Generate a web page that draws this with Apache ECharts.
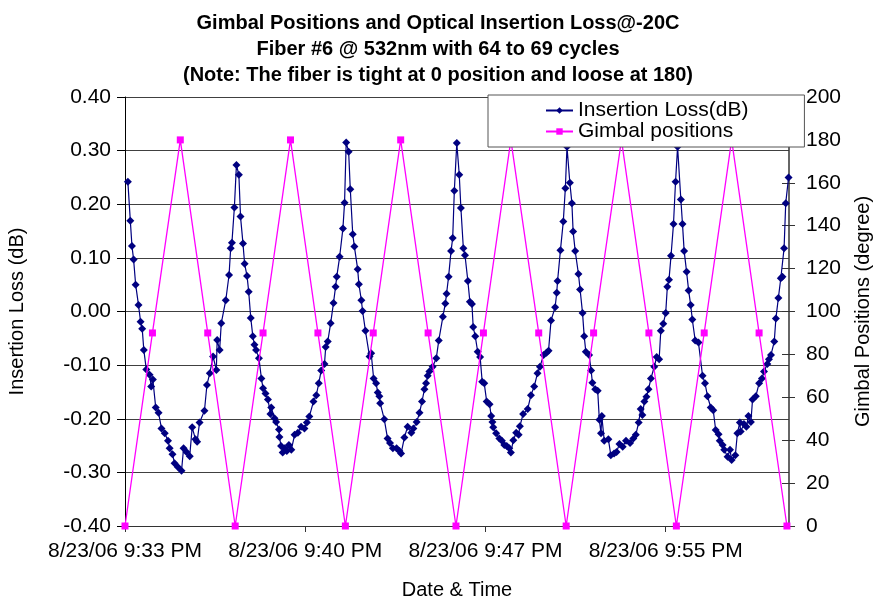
<!DOCTYPE html>
<html>
<head>
<meta charset="utf-8">
<title>Gimbal Positions and Optical Insertion Loss</title>
<script src="https://cdn.jsdelivr.net/npm/echarts@6/dist/echarts.min.js"></script>
<style>
  html, body { margin: 0; padding: 0; background: #fff; }
  #chart { width: 876px; height: 599px; }
</style>
</head>
<body>
<div id="chart"></div>
<script>
// x values are seconds after the first sample (~9:33 PM)
const xTickLabels = ['8/23/06 9:33 PM', '8/23/06 9:40 PM', '8/23/06 9:47 PM', '8/23/06 9:55 PM']

const gimbalTimes = [0, 67, 135, 202, 269, 337, 404, 471, 538, 606, 673, 740, 808,
  875, 942, 1010, 1077, 1144, 1212, 1279, 1346, 1414, 1481, 1548, 1616]
const gimbalPositions = [0, 90, 180, 90, 0, 90, 180, 90, 0, 90, 180, 90, 0,
  90, 180, 90, 0, 90, 180, 90, 0, 90, 180, 90, 0]

const lossTimes = [
  7, 13, 17, 21, 26, 33, 38, 42, 46, 52, 60, 64, 68, 75, 82, 89, 97, 105, 109, 116,
  121, 129, 138, 143, 150, 158, 164, 172, 176, 182, 194, 200, 207, 215, 223, 225, 231, 235, 246, 254,
  258, 261, 267, 272, 278,
  282, 288, 292, 298, 302, 307, 312, 316, 320, 327, 333, 337, 343, 349, 355, 357, 365, 369, 376, 377,
  381, 385, 390, 395, 400, 406, 414, 422, 430, 438, 444, 450, 460, 467, 473, 479, 487, 490, 495, 502,
  509, 514, 517, 524, 532, 536, 540, 546,
  550, 556, 560, 568, 571, 577, 580, 587, 597, 601, 607, 613, 617, 621, 623, 633, 641, 647, 654, 663,
  670, 674, 682, 690, 699, 704, 712, 719, 725, 731, 735, 739, 743, 751, 760, 766, 776, 782, 785, 790,
  796, 800, 804, 810,
  816, 820, 826, 830, 837, 842, 847, 850, 855, 861, 867, 872, 877, 883, 890, 894, 897, 899, 906, 914,
  920, 926, 932, 938, 942, 948, 955, 961, 964, 972, 983, 991, 999, 1007, 1013, 1022, 1029, 1034, 1040, 1050,
  1054, 1056, 1063, 1070, 1075, 1079,
  1086, 1091, 1094, 1099, 1107, 1111, 1117, 1121, 1125, 1133, 1138, 1141, 1148, 1154, 1158, 1162, 1164, 1170, 1180, 1186,
  1194, 1200, 1207, 1215, 1223, 1233, 1241, 1247, 1254, 1259, 1263, 1268, 1273, 1278, 1284, 1292, 1298, 1304, 1308, 1314,
  1320, 1324, 1328, 1333, 1339, 1344, 1349,
  1357, 1361, 1365, 1371, 1376, 1381, 1385, 1392, 1400, 1410, 1416, 1422, 1430, 1436, 1442, 1449, 1452, 1459, 1463, 1471,
  1477, 1481, 1490, 1495, 1501, 1503, 1511, 1517, 1522, 1528, 1532, 1540, 1548, 1555, 1560, 1568, 1572, 1577, 1585, 1589,
  1595, 1601, 1605, 1609, 1613, 1620
]
const lossValues = [
  0.242, 0.169, 0.122, 0.097, 0.050, 0.012, -0.019, -0.032, -0.072, -0.108, -0.118, -0.140, -0.127, -0.179, -0.189, -0.218, -0.227, -0.241, -0.255, -0.266,
  -0.283, -0.290, -0.297, -0.255, -0.262, -0.270, -0.216, -0.238, -0.243, -0.207, -0.185, -0.137, -0.115, -0.084, -0.109, -0.053, -0.072, -0.022, 0.021, 0.068,
  0.118, 0.128, 0.194, 0.273, 0.255,
  0.177, 0.127, 0.089, 0.066, 0.037, -0.012, -0.046, -0.062, -0.072, -0.087, -0.125, -0.143, -0.153, -0.164, -0.191, -0.179, -0.199, -0.206, -0.220, -0.234,
  -0.251, -0.263, -0.255, -0.260, -0.249, -0.258, -0.230, -0.226, -0.215, -0.218, -0.207, -0.196, -0.168, -0.156, -0.134, -0.110, -0.098, -0.066, -0.056, -0.022,
  0.016, 0.046, 0.065, 0.102, 0.155, 0.203, 0.315, 0.298,
  0.228, 0.144, 0.121, 0.079, 0.051, 0.021, 0.001, -0.036, -0.084, -0.078, -0.125, -0.134, -0.151, -0.158, -0.171, -0.201, -0.237, -0.245, -0.255, -0.255,
  -0.260, -0.265, -0.235, -0.215, -0.226, -0.218, -0.206, -0.189, -0.168, -0.145, -0.134, -0.120, -0.112, -0.103, -0.087, -0.054, -0.010, 0.015, 0.033, 0.065,
  0.113, 0.137, 0.225, 0.314,
  0.255, 0.193, 0.118, 0.105, 0.057, 0.018, 0.014, -0.029, -0.046, -0.075, -0.085, -0.131, -0.134, -0.168, -0.173, -0.195, -0.206, -0.216, -0.227, -0.237,
  -0.241, -0.249, -0.251, -0.255, -0.263, -0.240, -0.226, -0.230, -0.214, -0.191, -0.182, -0.156, -0.140, -0.115, -0.103, -0.081, -0.077, -0.073, -0.017, 0.008,
  0.035, 0.057, 0.114, 0.168, 0.230, 0.307,
  0.240, 0.202, 0.149, 0.113, 0.070, 0.041, -0.003, -0.046, -0.075, -0.081, -0.110, -0.133, -0.145, -0.148, -0.202, -0.227, -0.195, -0.241, -0.238, -0.268,
  -0.265, -0.262, -0.247, -0.252, -0.241, -0.245, -0.237, -0.230, -0.207, -0.182, -0.193, -0.168, -0.159, -0.145, -0.125, -0.103, -0.085, -0.089, -0.036, -0.023,
  -0.003, 0.046, 0.059, 0.104, 0.163, 0.242, 0.307,
  0.209, 0.163, 0.113, 0.074, 0.039, 0.012, -0.015, -0.054, -0.058, -0.120, -0.134, -0.158, -0.179, -0.184, -0.221, -0.229, -0.241, -0.249, -0.258, -0.271,
  -0.258, -0.277, -0.268, -0.227, -0.207, -0.224, -0.210, -0.215, -0.195, -0.206, -0.164, -0.158, -0.134, -0.125, -0.112, -0.098, -0.089, -0.081, -0.056, -0.013,
  0.025, 0.062, 0.065, 0.118, 0.202, 0.250
]

const FONT = 'Liberation Sans, Arial, Helvetica, sans-serif'
const AXIS_COLOR = '#333'

const lossData = lossTimes.map((t, i) => [t, lossValues[i]])
const gimbalData = gimbalTimes.map((t, i) => [t, gimbalPositions[i]])

const chart = echarts.init(document.getElementById('chart'), null, { renderer: 'canvas' })

chart.setOption({
  backgroundColor: '#fff',
  animation: false,
  textStyle: { fontFamily: FONT, color: '#000' },
  title: {
    text: 'Gimbal Positions and Optical Insertion Loss@-20C\nFiber #6 @ 532nm with 64 to 69 cycles\n(Note: The fiber is tight at 0 position and loose at 180)',
    left: 'center',
    top: 5,
    textStyle: { fontFamily: FONT, fontSize: 20, fontWeight: 'bold', color: '#000', lineHeight: 26 }
  },
  legend: {
    orient: 'vertical',
    left: 488,
    top: 95,
    padding: [5, 56, 5, 57],
    itemGap: 0,
    itemWidth: 27,
    itemHeight: 8,
    backgroundColor: '#fff',
    borderColor: '#555',
    borderWidth: 1,
    textStyle: { fontFamily: FONT, fontSize: 21, color: '#000', lineHeight: 18 },
    data: ['Insertion Loss(dB)', 'Gimbal positions'],
    z: 10
  },
  grid: { left: 125, right: 87, top: 97, bottom: 73, outerBoundsMode: 'none' },
  xAxis: {
    type: 'value',
    min: 0,
    max: 1621,
    interval: 440,
    name: 'Date & Time',
    nameLocation: 'middle',
    nameGap: 54,
    nameTextStyle: { fontFamily: FONT, fontSize: 20, color: '#000' },
    axisLine: { show: true, onZero: false, lineStyle: { color: AXIS_COLOR, width: 1 } },
    axisTick: { show: true, length: 6, lineStyle: { color: AXIS_COLOR } },
    splitLine: { show: false },
    axisLabel: {
      margin: 15,
      fontFamily: FONT,
      fontSize: 21,
      color: '#000',
      showMaxLabel: false,
      formatter: v => xTickLabels[Math.round(v / 440)] || ''
    }
  },
  yAxis: [
    {
      type: 'value',
      position: 'left',
      min: -0.4,
      max: 0.4,
      interval: 0.1,
      name: 'Insertion Loss (dB)',
      nameLocation: 'middle',
      nameGap: 98,
      nameTextStyle: { fontFamily: FONT, fontSize: 20, color: '#000' },
      axisLine: { show: true, onZero: false, lineStyle: { color: '#000', width: 1 } },
      axisTick: { show: true, length: 8, lineStyle: { color: '#000' } },
      splitLine: { show: true, lineStyle: { color: '#404040', width: 1 } },
      axisLabel: {
        margin: 14,
        fontFamily: FONT,
        fontSize: 21,
        color: '#000',
        formatter: v => v.toFixed(2)
      }
    },
    {
      type: 'value',
      position: 'right',
      min: 0,
      max: 200,
      interval: 20,
      name: 'Gimbal Positions (degree)',
      nameLocation: 'middle',
      nameGap: 64,
      nameTextStyle: { fontFamily: FONT, fontSize: 20, color: '#000' },
      axisLine: { show: true, onZero: false, lineStyle: { color: AXIS_COLOR, width: 1.5 } },
      axisTick: { show: true, length: 6, lineStyle: { color: AXIS_COLOR } },
      splitLine: { show: false },
      axisLabel: { margin: 17, fontFamily: FONT, fontSize: 21, color: '#000' }
    },
    {
      // inner half of the crossing ticks on the right axis
      type: 'value',
      position: 'right',
      min: 0,
      max: 200,
      interval: 20,
      axisLine: { show: false, onZero: false },
      axisTick: { show: true, inside: true, length: 7, lineStyle: { color: AXIS_COLOR } },
      axisLabel: { show: false },
      splitLine: { show: false }
    }
  ],
  series: [
    {
      name: 'Insertion Loss(dB)',
      type: 'line',
      yAxisIndex: 0,
      data: lossData,
      symbol: 'diamond',
      symbolSize: 8,
      clip: false,
      color: '#000080',
      lineStyle: { color: '#000080', width: 1.2 },
      itemStyle: { color: '#000080' },
      z: 2
    },
    {
      name: 'Gimbal positions',
      type: 'line',
      yAxisIndex: 1,
      data: gimbalData,
      symbol: 'rect',
      symbolSize: 7,
      clip: false,
      color: '#ff00ff',
      lineStyle: { color: '#ff00ff', width: 1.3 },
      itemStyle: { color: '#ff00ff' },
      z: 3
    }
  ]
})
</script>
</body>
</html>
